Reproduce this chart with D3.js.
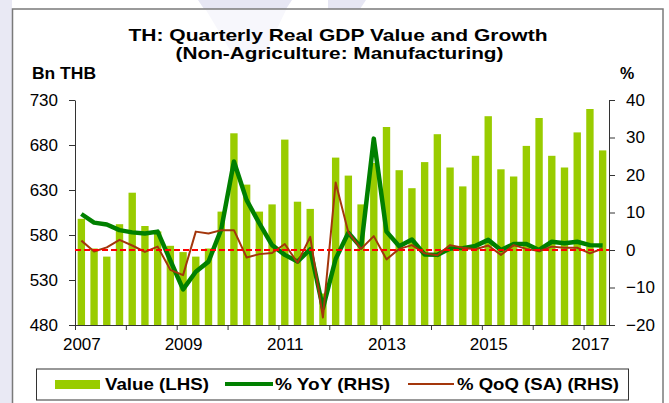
<!DOCTYPE html>
<html>
<head>
<meta charset="utf-8">
<title>TH: Quarterly Real GDP Value and Growth</title>
<script src="https://d3js.org/d3.v7.min.js"></script>
<style>
    body { margin: 0; background: #fff; }
    svg { display: block; font-family: Arial, "Liberation Sans", sans-serif; }
    .axis text { font-size: 17px; fill: #000; font-family: Arial, "Liberation Sans", sans-serif; }
    .axis path, .axis line { stroke: #333; }
    .legend text { font-size: 17px; font-weight: bold; fill: #000; }
</style>
</head>
<body>
<svg width="669" height="403"></svg>
<script>
// quarters 2007Q1 .. 2017Q2
const years = [2007, 2008, 2009, 2010, 2011, 2012, 2013, 2014, 2015, 2016, 2017];
const quarters = [];
years.forEach(y => ["Q1", "Q2", "Q3", "Q4"].forEach(q => quarters.push(y + q)));
quarters.splice(42);

// Value (LHS), Bn THB
const value = [598, 565, 556, 592, 627, 590, 584, 568, 561, 556, 565, 606,
               693, 636, 606, 614, 686, 617, 609, 515, 666, 646, 614, 660,
               700, 652, 632, 661, 692, 655, 634, 668, 712, 653, 645, 679,
               710, 668, 655, 694, 720, 674];
// % YoY (RHS)
const yoy = [9.6, 7.3, 6.8, 5.3, 4.7, 4.4, 4.9, -2.8, -10.5, -5.8, -3.1, 5.5,
             23.6, 13.3, 7.1, 1.3, -1.3, -3.1, 0.2, -15.5, -2.4, 4.6, 0.7, 29.7,
             4.9, 1.0, 2.8, -1.2, -1.3, 0.4, 0.5, 1.1, 2.7, 0.0, 1.6, 1.6,
             0.0, 2.2, 1.8, 2.2, 1.3, 1.2];
// % QoQ (SA) (RHS)
const qoq = [2.5, -0.4, 0.7, 2.7, 1.2, -0.5, 0.9, -5.3, -6.7, 4.9, 4.4, 5.3,
             5.3, -2.0, -1.1, -0.8, 1.6, -3.4, 3.5, -18.0, 18.0, 4.7, 0.3, 3.7,
             -2.5, 0.3, 1.3, -0.9, -1.4, 1.3, 0.6, 0.2, 1.2, -1.3, 1.3, 0.3,
             -0.3, 0.9, 0.6, 0.6, -0.9, 0.4];

const leftTicks = [480, 530, 580, 630, 680, 730];
const rightTicks = [-20, -10, 0, 10, 20, 30, 40];
const yearLabels = ["2007", "2009", "2011", "2013", "2015", "2017"];

const svg = d3.select("svg");
const plotL = 75, plotR = 609, plotT = 100, plotB = 325;

// background: left strip and faint watermark
svg.append("rect").attr("x", 0).attr("y", 0).attr("width", 12).attr("height", 403).attr("fill", "#e9e9f4");
svg.append("polygon").attr("points", "198,0 292,0 286,9 204,9").attr("fill", "#e6e6f3");
svg.append("polygon").attr("points", "328,0 366,0 360,9 328,9").attr("fill", "#e6e6f3");
svg.append("rect").attr("x", 12.5).attr("y", 9).attr("width", 650.5).attr("height", 410)
    .attr("fill", "#fff").attr("stroke", "#7a7a7a").attr("stroke-width", 1.5);
svg.append("polygon").attr("points", "206,10 286,10 262,60 236,60").attr("fill", "#f7f7fc");

const x = d3.scaleBand().domain(quarters).range([plotL, plotR]).paddingInner(0.42).paddingOuter(0.21);
const xq = d3.scaleLinear().domain([0, quarters.length]).range([plotL, plotR]);
const yL = d3.scaleLinear().domain([480, 730]).range([plotB, plotT]);
const yR = d3.scaleLinear().domain([-20, 40]).range([plotB, plotT]);
const cx = q => x(q) + x.bandwidth() / 2;

// bars
svg.append("g").selectAll("rect")
    .data(quarters)
    .join("rect")
    .attr("x", d => x(d))
    .attr("y", (d, i) => yL(value[i]))
    .attr("width", x.bandwidth())
    .attr("height", (d, i) => yL(480) - yL(value[i]))
    .attr("fill", "#99cc00");

// axes
const yearStarts = quarters.map((q, i) => i).filter(i => quarters[i].endsWith("Q1"));
const xAxis = svg.append("g").attr("class", "axis")
    .attr("transform", "translate(0," + plotB + ")")
    .call(d3.axisBottom(xq).tickValues(yearStarts).tickSize(5).tickSizeOuter(0).tickPadding(8)
        .tickFormat(i => {
            const yr = quarters[i].slice(0, 4);
            return yearLabels.includes(yr) ? yr : "";
        }));
xAxis.selectAll("text").attr("dx", x.step() / 2);

svg.append("g").attr("class", "axis")
    .attr("transform", "translate(" + plotL + ",0)")
    .call(d3.axisLeft(yL).tickValues(leftTicks).tickSize(6).tickSizeOuter(0).tickPadding(11));

svg.append("g").attr("class", "axis")
    .attr("transform", "translate(" + plotR + ",0)")
    .call(d3.axisRight(yR).tickValues(rightTicks).tickSize(6).tickSizeOuter(0).tickPadding(11));

// lines
const line = data => d3.line()
    .x((d, i) => cx(quarters[i]))
    .y(d => yR(d))(data);

svg.append("path").attr("d", line(yoy))
    .attr("fill", "none").attr("stroke", "#008000").attr("stroke-width", 4.5)
    .attr("stroke-linejoin", "round");

svg.append("path").attr("d", line(qoq))
    .attr("fill", "none").attr("stroke", "#a3360c").attr("stroke-width", 2)
    .attr("stroke-linejoin", "round");

svg.append("line")
    .attr("x1", plotL).attr("x2", plotR)
    .attr("y1", yR(0)).attr("y2", yR(0))
    .attr("stroke", "#ff0000").attr("stroke-width", 2).attr("stroke-dasharray", "6,3");

// titles
svg.append("text").attr("x", 338).attr("y", 40.5).attr("text-anchor", "middle")
    .attr("font-size", 17).attr("font-weight", "bold")
    .attr("textLength", 419).attr("lengthAdjust", "spacingAndGlyphs")
    .text("TH: Quarterly Real GDP Value and Growth");
svg.append("text").attr("x", 339.5).attr("y", 58.5).attr("text-anchor", "middle")
    .attr("font-size", 17).attr("font-weight", "bold")
    .attr("textLength", 328).attr("lengthAdjust", "spacingAndGlyphs")
    .text("(Non-Agriculture: Manufacturing)");
svg.append("text").attr("x", 32).attr("y", 79)
    .attr("font-size", 16).attr("font-weight", "bold")
    .attr("textLength", 64).attr("lengthAdjust", "spacingAndGlyphs")
    .text("Bn THB");
svg.append("text").attr("x", 620).attr("y", 79)
    .attr("font-size", 16).attr("font-weight", "bold")
    .text("%");

// legend
const legend = svg.append("g").attr("class", "legend");
legend.append("rect").attr("x", 36.5).attr("y", 369).attr("width", 592).attr("height", 31)
    .attr("fill", "#fff").attr("stroke", "#333").attr("stroke-width", 1);
legend.append("rect").attr("x", 55).attr("y", 380).attr("width", 45).attr("height", 9).attr("fill", "#99cc00");
legend.append("text").attr("x", 105).attr("y", 390)
    .attr("textLength", 104).attr("lengthAdjust", "spacingAndGlyphs").text("Value (LHS)");
legend.append("line").attr("x1", 225).attr("x2", 273).attr("y1", 384).attr("y2", 384)
    .attr("stroke", "#008000").attr("stroke-width", 4);
legend.append("text").attr("x", 275).attr("y", 390)
    .attr("textLength", 115).attr("lengthAdjust", "spacingAndGlyphs").text("% YoY (RHS)");
legend.append("line").attr("x1", 408).attr("x2", 454).attr("y1", 384).attr("y2", 384)
    .attr("stroke", "#a3360c").attr("stroke-width", 2);
legend.append("text").attr("x", 457).attr("y", 390)
    .attr("textLength", 162).attr("lengthAdjust", "spacingAndGlyphs").text("% QoQ (SA) (RHS)");
</script>
</body>
</html>
